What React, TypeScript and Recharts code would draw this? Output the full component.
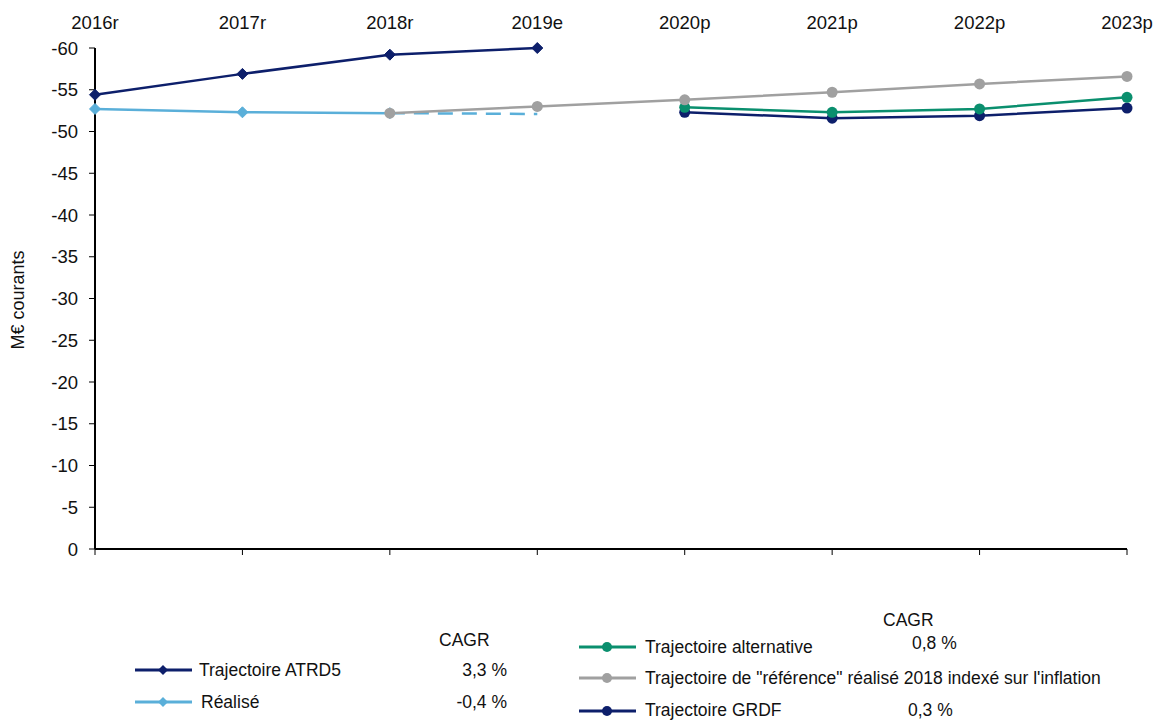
import React from 'react';
import { LineChart, Line, XAxis, YAxis } from 'recharts';

const categories = ['2016r', '2017r', '2018r', '2019e', '2020p', '2021p', '2022p', '2023p'];
const atrd5 = [-54.4, -56.9, -59.2, -60.0, null, null, null, null];
const realise = [-52.7, -52.3, -52.2, null, null, null, null, null];
const realiseEstime = [null, null, -52.2, -52.1, null, null, null, null];
const reference = [null, null, -52.2, -53.0, -53.8, -54.7, -55.7, -56.6];
const alternative = [null, null, null, null, -52.9, -52.3, -52.7, -54.1];
const grdf = [null, null, null, null, -52.3, -51.6, -51.9, -52.8];
const yTicks = [0, -5, -10, -15, -20, -25, -30, -35, -40, -45, -50, -55, -60];

const cagrLeft = ['3,3 %', '-0,4 %'];
const cagrRight = ['0,8 %', '', '0,3 %'];

const NAVY = '#0d1f6b';
const LIGHT = '#5aafd9';
const GRAY = '#a0a0a0';
const GREEN = '#0a8f6e';

const data = categories.map((c, i) => ({
  cat: c,
  atrd5: atrd5[i],
  realise: realise[i],
  realiseEstime: realiseEstime[i],
  reference: reference[i],
  alternative: alternative[i],
  grdf: grdf[i],
}));

const FONT = 'Liberation Sans, Arial, Helvetica, sans-serif';

const diamond = (color: string) => (props: any) => {
  const { cx, cy, index, value } = props;
  if (value === null || value === undefined || cx == null || cy == null) return <g key={index} />;
  const s = 5.5;
  return (
    <polygon
      key={index}
      points={`${cx},${cy - s} ${cx + s},${cy} ${cx},${cy + s} ${cx - s},${cy}`}
      fill={color}
      stroke={color}
    />
  );
};

const LegendIcon = ({ color, kind }: { color: string; kind: 'diamond' | 'circle' }) => (
  <svg width={57} height={14} style={{ display: 'block' }}>
    <line x1={0} y1={7} x2={57} y2={7} stroke={color} strokeWidth={3} />
    {kind === 'diamond' ? (
      <polygon points="28,2 33,7 28,12 23,7" fill={color} />
    ) : (
      <circle cx={28} cy={7} r={5} fill={color} />
    )}
  </svg>
);

const txt: React.CSSProperties = {
  position: 'absolute',
  fontFamily: FONT,
  fontSize: 17.5,
  color: '#111',
  whiteSpace: 'nowrap',
  lineHeight: '18px',
};

export default function App() {
  return (
    <div style={{ position: 'absolute', left: 0, top: 0, width: 1155, height: 720, background: '#fff', fontFamily: FONT }}>
      <LineChart
        width={1155}
        height={580}
        data={data}
        margin={{ top: 18, right: 28, bottom: 21, left: 0 }}
      >
        <XAxis
          xAxisId="top"
          dataKey="cat"
          orientation="top"
          height={30}
          axisLine={false}
          tickLine={false}
          tickMargin={13}
          interval={0}
          tick={{ fill: '#111', fontSize: 18.5, fontFamily: FONT }}
        />
        <XAxis
          xAxisId="bottom"
          dataKey="cat"
          orientation="bottom"
          height={10}
          axisLine={{ stroke: '#000', strokeWidth: 2 }}
          tickLine={{ stroke: '#000', strokeWidth: 1 }}
          tickSize={6}
          interval={0}
          tickFormatter={() => ''}
        />
        <YAxis
          reversed
          domain={[-60, 0]}
          ticks={yTicks}
          interval={0}
          width={95}
          axisLine={{ stroke: '#000', strokeWidth: 2 }}
          tickLine={{ stroke: '#000', strokeWidth: 1 }}
          tickSize={6}
          tickMargin={11}
          tick={{ fill: '#111', fontSize: 18.5, fontFamily: FONT }}
        />
        <Line xAxisId="bottom" dataKey="atrd5" stroke={NAVY} strokeWidth={2.5} dot={diamond(NAVY)} isAnimationActive={false} />
        <Line xAxisId="bottom" dataKey="realise" stroke={LIGHT} strokeWidth={2.5} dot={diamond(LIGHT)} isAnimationActive={false} />
        <Line xAxisId="bottom" dataKey="realiseEstime" stroke={LIGHT} strokeWidth={2.5} strokeDasharray="15 9" dot={false} isAnimationActive={false} />
        <Line xAxisId="bottom" dataKey="grdf" stroke={NAVY} strokeWidth={2.5} dot={{ r: 5.5, fill: NAVY, stroke: NAVY, strokeWidth: 0 }} isAnimationActive={false} />
        <Line xAxisId="bottom" dataKey="alternative" stroke={GREEN} strokeWidth={2.5} dot={{ r: 5.5, fill: GREEN, stroke: GREEN, strokeWidth: 0 }} isAnimationActive={false} />
        <Line xAxisId="bottom" dataKey="reference" stroke={GRAY} strokeWidth={2.5} dot={{ r: 5.5, fill: GRAY, stroke: GRAY, strokeWidth: 0 }} isAnimationActive={false} />
      </LineChart>

      <div style={{ ...txt, left: 18, top: 300, fontSize: 18, transform: 'translate(-50%, -50%) rotate(-90deg)' }}>M€ courants</div>

      {/* Left legend group */}
      <div style={{ ...txt, left: 439, top: 631 }}>CAGR</div>
      <div style={{ position: 'absolute', left: 135, top: 663 }}><LegendIcon color={NAVY} kind="diamond" /></div>
      <div style={{ ...txt, left: 199, top: 661 }}>Trajectoire ATRD5</div>
      <div style={{ ...txt, left: 407, width: 100, textAlign: 'right', top: 661 }}>{cagrLeft[0]}</div>
      <div style={{ position: 'absolute', left: 135, top: 695 }}><LegendIcon color={LIGHT} kind="diamond" /></div>
      <div style={{ ...txt, left: 201, top: 693 }}>Réalisé</div>
      <div style={{ ...txt, left: 407, width: 100, textAlign: 'right', top: 693 }}>{cagrLeft[1]}</div>

      {/* Right legend group */}
      <div style={{ ...txt, left: 883, top: 611 }}>CAGR</div>
      <div style={{ position: 'absolute', left: 579, top: 640 }}><LegendIcon color={GREEN} kind="circle" /></div>
      <div style={{ ...txt, left: 645, top: 638 }}>Trajectoire alternative</div>
      <div style={{ ...txt, left: 912, top: 634 }}>{cagrRight[0]}</div>
      <div style={{ position: 'absolute', left: 579, top: 671 }}><LegendIcon color={GRAY} kind="circle" /></div>
      <div style={{ ...txt, left: 645, top: 669 }}>Trajectoire de "référence" réalisé 2018 indexé sur l'inflation</div>
      <div style={{ position: 'absolute', left: 579, top: 704 }}><LegendIcon color={NAVY} kind="circle" /></div>
      <div style={{ ...txt, left: 645, top: 701 }}>Trajectoire GRDF</div>
      <div style={{ ...txt, left: 908, top: 701 }}>{cagrRight[2]}</div>
    </div>
  );
}
